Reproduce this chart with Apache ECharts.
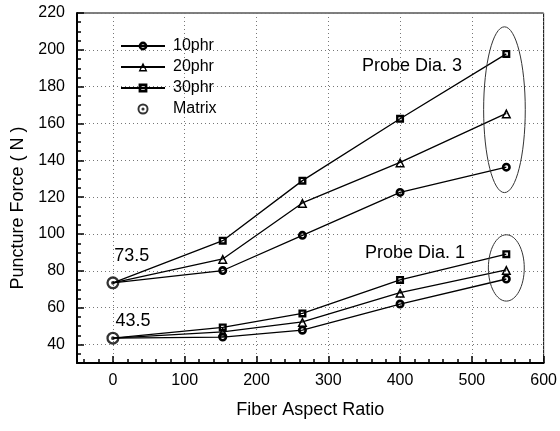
<!DOCTYPE html>
<html>
<head>
<meta charset="utf-8">
<script src="https://cdn.jsdelivr.net/npm/echarts@6/dist/echarts.min.js"></script>
<style>
  html, body { margin: 0; padding: 0; background: #fff; }
  #main { width: 560px; height: 431px; }
</style>
</head>
<body>
<div id="main"></div>
<script>
// fiber aspect ratio (x)
const aspectRatio = [0, 153, 264, 400, 548];
// probe dia. 3
const dia3_10phr = [73.5, 80.2, 99.3, 122.6, 136.3];
const dia3_20phr = [73.5, 86.5, 116.9, 138.9, 165.5];
const dia3_30phr = [73.5, 96.4, 129.0, 162.6, 197.8];
// probe dia. 1
const dia1_10phr = [43.5, 44.1, 47.8, 62.0, 75.6];
const dia1_20phr = [43.5, 46.9, 52.3, 68.2, 80.5];
const dia1_30phr = [43.5, 49.3, 56.9, 75.1, 89.1];
// matrix values (at aspect ratio 0)
const matrixVals = [73.5, 43.5];

const xTickLabels = [0, 100, 200, 300, 400, 500, 600];
const yTickLabels = [40, 60, 80, 100, 120, 140, 160, 180, 200, 220];
const xMinorTicks = [];
for (let v = -40; v <= 600; v += 20) xMinorTicks.push(v);

const font = 'Liberation Sans, Arial, sans-serif';
// 符号：粗边框 + 小白心
const ringSymbol = 'path://M0,-5A5,5 0 1,1 0,5A5,5 0 1,1 0,-5Z M0,-2.1A2.1,2.1 0 1,0 0,2.1A2.1,2.1 0 1,0 0,-2.1Z';
const squareSymbol = 'path://M-5,-5H5V5H-5Z M-2,-2V2H2V-2Z';
const triSymbol = 'path://M0,-5L5.5,4.5L-5.5,4.5Z M0,-1.6L-2.9,3.1L2.9,3.1Z';
const matrixSymbol = 'path://M0,-6A6,6 0 1,1 0,6A6,6 0 1,1 0,-6Z M0,-3.9A3.9,3.9 0 1,0 0,3.9A3.9,3.9 0 1,0 0,-3.9Z M0,-1.7A1.7,1.7 0 1,1 0,1.7A1.7,1.7 0 1,1 0,-1.7Z';

let myChart = echarts.init(document.getElementById('main'));

// 折线数据：第一个点(基体)不画符号
const toData = (vals) => vals.map((v, i) => {
    if (i === 0) return {value: [aspectRatio[i], v], symbol: 'none'};
    return [aspectRatio[i], v];
});

const lineSeries = (name, vals, symbol, size) => ({
    name: name,
    type: 'line',
    xAxisIndex: 0,
    yAxisIndex: 0,
    symbol: symbol,
    symbolSize: size,
    showAllSymbol: true,
    lineStyle: {color: '#000', width: 1.3},
    itemStyle: {color: '#000'},
    emphasis: {disabled: true},
    z: 3,
    data: toData(vals)
});

const axisCommon = {
    type: 'value',
    axisLine: {show: true, onZero: false, lineStyle: {color: '#000', width: 2}},
    axisLabel: {color: '#000', fontSize: 16, fontFamily: font},
    nameTextStyle: {color: '#000', fontSize: 18, fontFamily: font}
};
const minorAxis = {
    type: 'value',
    axisLine: {show: false, onZero: false},
    axisLabel: {show: false},
    splitLine: {show: false}
};

myChart.setOption({
    animation: false,
    grid: {
        left: 77, right: 15, top: 13, bottom: 68,
        show: true, borderColor: '#000', borderWidth: 1
    },
    legend: {
        orient: 'vertical',
        left: 115,
        top: 33,
        itemWidth: 44,
        itemHeight: 11,
        itemGap: 5,
        data: ['10phr', '20phr', '30phr', 'Matrix'],
        textStyle: {color: '#000', fontSize: 16, fontFamily: font, padding: [0, 0, 0, 3]}
    },
    xAxis: [
        Object.assign({}, axisCommon, {
            min: -50, max: 600,
            position: 'bottom',
            name: 'Fiber Aspect Ratio',
            nameLocation: 'middle',
            nameGap: 38,
            axisTick: {show: true, inside: true, length: 7, customValues: xTickLabels, lineStyle: {color: '#000', width: 1.5}},
            axisLabel: Object.assign({}, axisCommon.axisLabel, {customValues: xTickLabels, margin: 10}),
            splitLine: {show: true, lineStyle: {color: '#777', type: [1, 3], width: 1}}
        }),
        Object.assign({}, minorAxis, {
            min: -50, max: 600, position: 'bottom',
            axisTick: {show: true, inside: true, length: 4, customValues: xMinorTicks, lineStyle: {color: '#000', width: 1.5}}
        })
    ],
    yAxis: [
        Object.assign({}, axisCommon, {
            min: 30, max: 220,
            position: 'left',
            name: 'Puncture Force ( N )',
            nameLocation: 'middle',
            nameGap: 47,
            nameTextStyle: Object.assign({}, axisCommon.nameTextStyle, {padding: [0, 0, 0, -40]}),
            axisTick: {show: true, inside: true, length: 7, customValues: yTickLabels, lineStyle: {color: '#000', width: 1.5}},
            axisLabel: Object.assign({}, axisCommon.axisLabel, {customValues: yTickLabels, margin: 12}),
            splitLine: {show: true, lineStyle: {color: '#777', type: [1, 3], width: 1}}
        }),
        Object.assign({}, minorAxis, {
            min: 30, max: 220, interval: 5, position: 'left',
            axisTick: {show: true, inside: true, length: 4, lineStyle: {color: '#000', width: 1.5}}
        })
    ],
    series: [
        lineSeries('10phr', dia3_10phr, ringSymbol, 9),
        lineSeries('20phr', dia3_20phr, triSymbol, 10),
        lineSeries('30phr', dia3_30phr, squareSymbol, 8),
        lineSeries('10phr', dia1_10phr, ringSymbol, 9),
        lineSeries('20phr', dia1_20phr, triSymbol, 10),
        lineSeries('30phr', dia1_30phr, squareSymbol, 8),
        {
            name: 'Matrix',
            type: 'scatter',
            xAxisIndex: 0,
            yAxisIndex: 0,
            symbol: matrixSymbol,
            symbolSize: 13,
            itemStyle: {color: '#000'},
            emphasis: {disabled: true},
            z: 5,
            data: matrixVals.map(v => [aspectRatio[0], v])
        }
    ]
});

// 注释：椭圆和文字 (数据坐标)
const px = (x, y) => myChart.convertToPixel({xAxisIndex: 0, yAxisIndex: 0}, [x, y]);
const ellipse = (cx, cy, rx, ry) => {
    const c = px(cx, cy), e = px(cx + rx, cy + ry);
    return {
        type: 'ellipse',
        shape: {cx: c[0], cy: c[1], rx: Math.abs(e[0] - c[0]), ry: Math.abs(c[1] - e[1])},
        style: {fill: 'none', stroke: '#333', lineWidth: 1},
        z: 10
    };
};
const label = (x, y, text) => {
    const p = px(x, y);
    return {
        type: 'text', x: p[0], y: p[1],
        style: {text: text, fill: '#000', font: '18px ' + font, textVerticalAlign: 'middle'},
        z: 10
    };
};
myChart.setOption({
    graphic: [
        ellipse(545.4, 167.5, 29, 45),
        ellipse(548, 81.6, 25, 18),
        label(347, 191.3, 'Probe Dia. 3'),
        label(351, 89.8, 'Probe Dia. 1'),
        label(2, 87.9, '73.5'),
        label(3.5, 53, '43.5')
    ]
});
window.addEventListener('resize', () => myChart.resize());
</script>
</body>
</html>
